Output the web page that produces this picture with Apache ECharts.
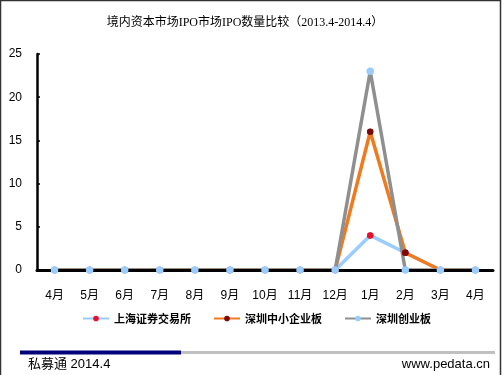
<!DOCTYPE html>
<html>
<head>
<meta charset="utf-8">
<script src="https://cdn.jsdelivr.net/npm/echarts@6/dist/echarts.min.js"></script>
<style>
html,body{margin:0;padding:0;background:#fff;}
#c{width:502px;height:375px;}
</style>
</head>
<body>
<div id="c"></div>
<script>
var titleText = '境内资本市场IPO市场IPO数量比较（2013.4-2014.4）';
var categories = ['4月','5月','6月','7月','8月','9月','10月','11月','12月','1月','2月','3月','4月'];
var seriesNames = ['上海证券交易所','深圳中小企业板','深圳创业板'];
var shanghai = [0,0,0,0,0,0,0,0,0,4,2,0,0];
var smeBoard = [0,0,0,0,0,0,0,0,0,16,2,0,0];
var gemBoard = [0,0,0,0,0,0,0,0,0,23,0,0,0];
var yTicks = [0,5,10,15,20,25];
var footerLeft = '私募通 2014.4';
var footerRight = 'www.pedata.cn';

var lineColors = ['#99ccff','#f07a1e','#8f8f8f'];
var markColors = ['#e8102a','#7a0a0a','#99ccff'];
var markSizes = [6.5, 6.5, 7.5];
var datasets = [shanghai, smeBoard, gemBoard];

var series = [];
datasets.forEach(function(d,i){
  series.push({
    name: seriesNames[i], type:'line', data:d, z:1,
    symbol:'circle', symbolSize:6, showSymbol:true,
    lineStyle:{color:lineColors[i], width:3.5},
    itemStyle:{color:markColors[i], borderWidth:0},
    emphasis:{disabled:true}, animation:false
  });
});
datasets.forEach(function(d,i){
  series.push({
    name: seriesNames[i]+'_m', type:'scatter', data:d, z:4,
    symbol:'circle', symbolSize:markSizes[i],
    itemStyle:{color:markColors[i], opacity:1},
    emphasis:{disabled:true}, animation:false
  });
});

var chart = echarts.init(document.getElementById('c'), null, {renderer:'canvas'});
chart.setOption({
  animation:false,
  backgroundColor:'#fff',
  title:{
    text:titleText, left:240, textAlign:'center', top:12,
    textStyle:{fontFamily:"'Liberation Serif','Noto Sans CJK SC'", fontSize:12, fontWeight:'normal', color:'#000'}
  },
  legend:{
    data:seriesNames, top:308, left:77, itemGap:22, itemWidth:26, itemHeight:7,
    textStyle:{fontFamily:"'Noto Sans CJK SC'", fontSize:11, fontWeight:'bold', color:'#000'},
    selectedMode:false
  },
  grid:{left:37, right:9, top:54, bottom:105},
  xAxis:{
    type:'category', data:categories, boundaryGap:true, z:3,
    axisLine:{lineStyle:{color:'#000', width:3}},
    axisTick:{inside:true, length:3, lineStyle:{color:'#000', width:1.5}},
    axisLabel:{margin:20, fontFamily:'Arial, Liberation Sans, Noto Sans CJK SC', fontSize:12, color:'#000'},
    splitLine:{show:false}
  },
  yAxis:{
    type:'value', min:yTicks[0], max:yTicks[yTicks.length-1], interval:5, z:3,
    axisLine:{show:true, lineStyle:{color:'#000', width:2.5}},
    axisTick:{show:true, inside:true, length:3, lineStyle:{color:'#000', width:1.5}},
    axisLabel:{margin:15, fontFamily:'Arial, Liberation Sans', fontSize:12, color:'#000'},
    splitLine:{show:false}
  },
  graphic:[
    {type:'rect', shape:{x:0.5,y:0.5,width:500,height:390}, style:{fill:null, stroke:'#333', lineWidth:1.5}, silent:true},
    {type:'rect', shape:{x:180,y:351,width:315,height:3}, style:{fill:'#c0c0c0'}, silent:true},
    {type:'rect', shape:{x:20,y:350.5,width:161,height:4}, style:{fill:'#00007a'}, silent:true},
    {type:'text', left:28, top:358, style:{text:footerLeft, font:"13px 'Liberation Sans','Noto Sans CJK SC'", fill:'#000'}, silent:true},
    {type:'text', right:12, top:358, style:{text:footerRight, font:"13px 'Liberation Sans'", fill:'#000'}, silent:true}
  ],
  series:series
});
</script>
</body>
</html>
